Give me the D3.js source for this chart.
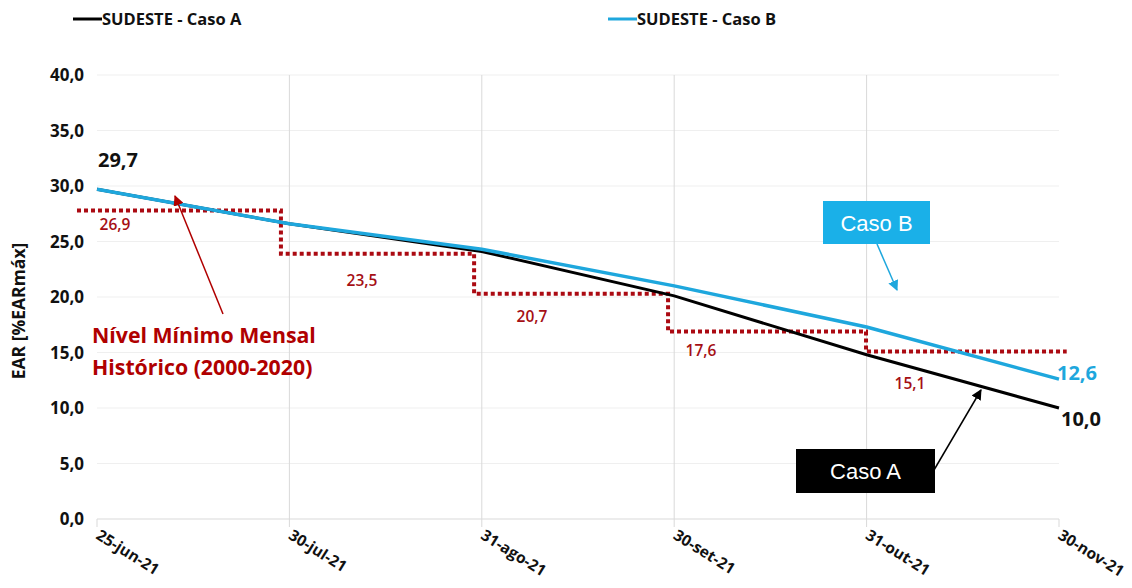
<!DOCTYPE html>
<html><head><meta charset="utf-8">
<script src="https://cdn.jsdelivr.net/npm/d3@7"></script>
<style>body{margin:0;background:#fff}svg{display:block}</style>
</head><body>
<script>
const categories = ["25-jun-21","30-jul-21","31-ago-21","30-set-21","31-out-21","30-nov-21"];
const casoA = [29.7, 26.6, 24.1, 20.1, 14.8, 10.0];
const casoB = [29.7, 26.6, 24.3, 21.0, 17.3, 12.6];
// historical monthly minimum (step line): x in category-index units
const minX = [-0.104, 0.956, 1.96, 2.968, 3.997, 5.04];
const minLevels = [27.8, 23.9, 20.3, 16.9, 15.1];
const minLabels = ["26,9","23,5","20,7","17,6","15,1"];
const yTicks = [0,5,10,15,20,25,30,35,40];

const W=1132,H=588;
const svg=d3.select("body").append("svg").attr("width",W).attr("height",H);
const font="'Open Sans', sans-serif";
const x=d3.scaleLinear().domain([0,5]).range([97,1059]);
const y=d3.scaleLinear().domain([0,40]).range([519,75]);
const fmt=v=>d3.format(".1f")(v).replace(".",",");

// horizontal grid
svg.append("g").selectAll("line").data(yTicks.filter(d=>d>0)).join("line")
  .attr("x1",x(0)).attr("x2",x(5)).attr("y1",d=>y(d)).attr("y2",d=>y(d))
  .attr("stroke","#efefef").attr("stroke-width",1);
// vertical grid
svg.append("g").selectAll("line").data(d3.range(1,5)).join("line")
  .attr("x1",d=>x(d)).attr("x2",d=>x(d)).attr("y1",y(40)).attr("y2",y(0)+8)
  .attr("stroke","#d9d9d9").attr("stroke-width",1);
svg.append("g").selectAll("line").data([0,5]).join("line")
  .attr("x1",d=>x(d)).attr("x2",d=>x(d)).attr("y1",y(0)).attr("y2",y(0)+8)
  .attr("stroke","#d9d9d9");
// baseline
svg.append("line").attr("x1",x(0)).attr("x2",x(5)).attr("y1",y(0)).attr("y2",y(0))
  .attr("stroke","#d9d9d9").attr("stroke-width",1.2);

// y tick labels
svg.append("g").selectAll("text").data(yTicks).join("text")
  .attr("x",84).attr("y",d=>y(d)+6).attr("text-anchor","end")
  .attr("font-family",font).attr("font-weight","bold").attr("font-size",17).attr("fill","#111")
  .text(fmt);
// y axis title
svg.append("text").attr("transform","translate(25,311) rotate(-90)").attr("text-anchor","middle")
  .attr("font-family",font).attr("font-weight","bold").attr("font-size",17.5).attr("fill","#111")
  .text("EAR [%EARmáx]");
// x tick labels
svg.append("g").selectAll("text").data(categories).join("text")
  .attr("transform",(d,i)=>`translate(${x(i)-2},${538}) rotate(32)`)
  .attr("font-family",font).attr("font-weight","bold").attr("font-size",15.5).attr("fill","#111")
  .text(d=>d);

// step line (historical minimum)
const stepPts=[];
minLevels.forEach((v,i)=>{stepPts.push([minX[i],v]);stepPts.push([minX[i+1],v]);});
svg.append("path").datum(stepPts)
  .attr("d",d3.line().x(d=>x(d[0])).y(d=>y(d[1])))
  .attr("fill","none").attr("stroke","#ab0a12").attr("stroke-width",4).attr("stroke-dasharray","4,3");
// step labels
const labX=[115,362,532,701,910], labDy=[20,32,28,25,38];
svg.append("g").selectAll("text").data(minLabels).join("text")
  .attr("x",(d,i)=>labX[i]).attr("y",(d,i)=>y(minLevels[i])+labDy[i])
  .attr("text-anchor","middle")
  .attr("font-family",font).attr("font-size",15.5).attr("font-weight",600).attr("fill","#a50f15")
  .text(d=>d);

// series lines
const line=d3.line().x((d,i)=>x(i)).y(d=>y(d));
svg.append("path").datum(casoA).attr("d",line).attr("fill","none").attr("stroke","#000").attr("stroke-width",3);
svg.append("path").datum(casoB).attr("d",line).attr("fill","none").attr("stroke","#1ea7dd").attr("stroke-width",3.5);

// data labels
svg.append("text").attr("x",x(0)+1).attr("y",y(casoA[0])-22).attr("font-family",font).attr("font-weight","bold")
  .attr("font-size",20).attr("fill","#111").text(fmt(casoA[0]));
svg.append("text").attr("x",x(5)-2).attr("y",y(casoB[5])+1).attr("font-family",font).attr("font-weight","bold")
  .attr("font-size",20).attr("fill","#1ea7dd").text(fmt(casoB[5]));
svg.append("text").attr("x",x(5)+2).attr("y",y(casoA[5])+18).attr("font-family",font).attr("font-weight","bold")
  .attr("font-size",20).attr("fill","#111").text(fmt(casoA[5]));

// arrows
const defs=svg.append("defs");
function marker(id,color){
  defs.append("marker").attr("id",id).attr("viewBox","0 0 10 10").attr("refX",9).attr("refY",5)
    .attr("markerWidth",7).attr("markerHeight",7).attr("orient","auto-start-reverse")
    .append("path").attr("d","M0,0L10,5L0,10z").attr("fill",color);
}
marker("mr","#b00000");marker("mb","#1ea7dd");marker("mk","#000");
svg.append("line").attr("x1",223).attr("y1",314).attr("x2",175).attr("y2",196)
  .attr("stroke","#b00000").attr("stroke-width",1.5).attr("marker-end","url(#mr)");
svg.append("line").attr("x1",877).attr("y1",244).attr("x2",897).attr("y2",290)
  .attr("stroke","#1ea7dd").attr("stroke-width",1.5).attr("marker-end","url(#mb)");
svg.append("line").attr("x1",934).attr("y1",470).attr("x2",981).attr("y2",390)
  .attr("stroke","#000").attr("stroke-width",1.5).attr("marker-end","url(#mk)");

// annotation boxes
svg.append("rect").attr("x",823).attr("y",201).attr("width",107).attr("height",43).attr("fill","#1ab0e8");
svg.append("text").attr("x",876.5).attr("y",231).attr("text-anchor","middle").attr("font-family","'Liberation Sans', Arial, sans-serif")
  .attr("font-size",22).attr("fill","#fff").text("Caso B");
svg.append("rect").attr("x",796).attr("y",449).attr("width",139).attr("height",44).attr("fill","#000");
svg.append("text").attr("x",865.5).attr("y",479).attr("text-anchor","middle").attr("font-family","'Liberation Sans', Arial, sans-serif")
  .attr("font-size",22).attr("fill","#fff").text("Caso A");

// red annotation text
svg.append("text").attr("x",92).attr("y",343).attr("font-family",font).attr("font-weight","bold")
  .attr("font-size",21.3).attr("fill","#b00000").text("Nível Mínimo Mensal");
svg.append("text").attr("x",92).attr("y",375).attr("font-family",font).attr("font-weight","bold")
  .attr("font-size",21.3).attr("fill","#b00000").text("Histórico (2000-2020)");

// legend
const leg=[{n:"SUDESTE - Caso A",c:"#000",x:73},{n:"SUDESTE - Caso B",c:"#1ea7dd",x:608}];
leg.forEach(l=>{
  svg.append("line").attr("x1",l.x).attr("x2",l.x+29).attr("y1",19).attr("y2",19).attr("stroke",l.c).attr("stroke-width",3);
  svg.append("text").attr("x",l.x+29).attr("y",25).attr("font-family",font).attr("font-weight","bold")
    .attr("font-size",16.5).attr("fill","#111").text(l.n);
});
</script>
</body></html>
